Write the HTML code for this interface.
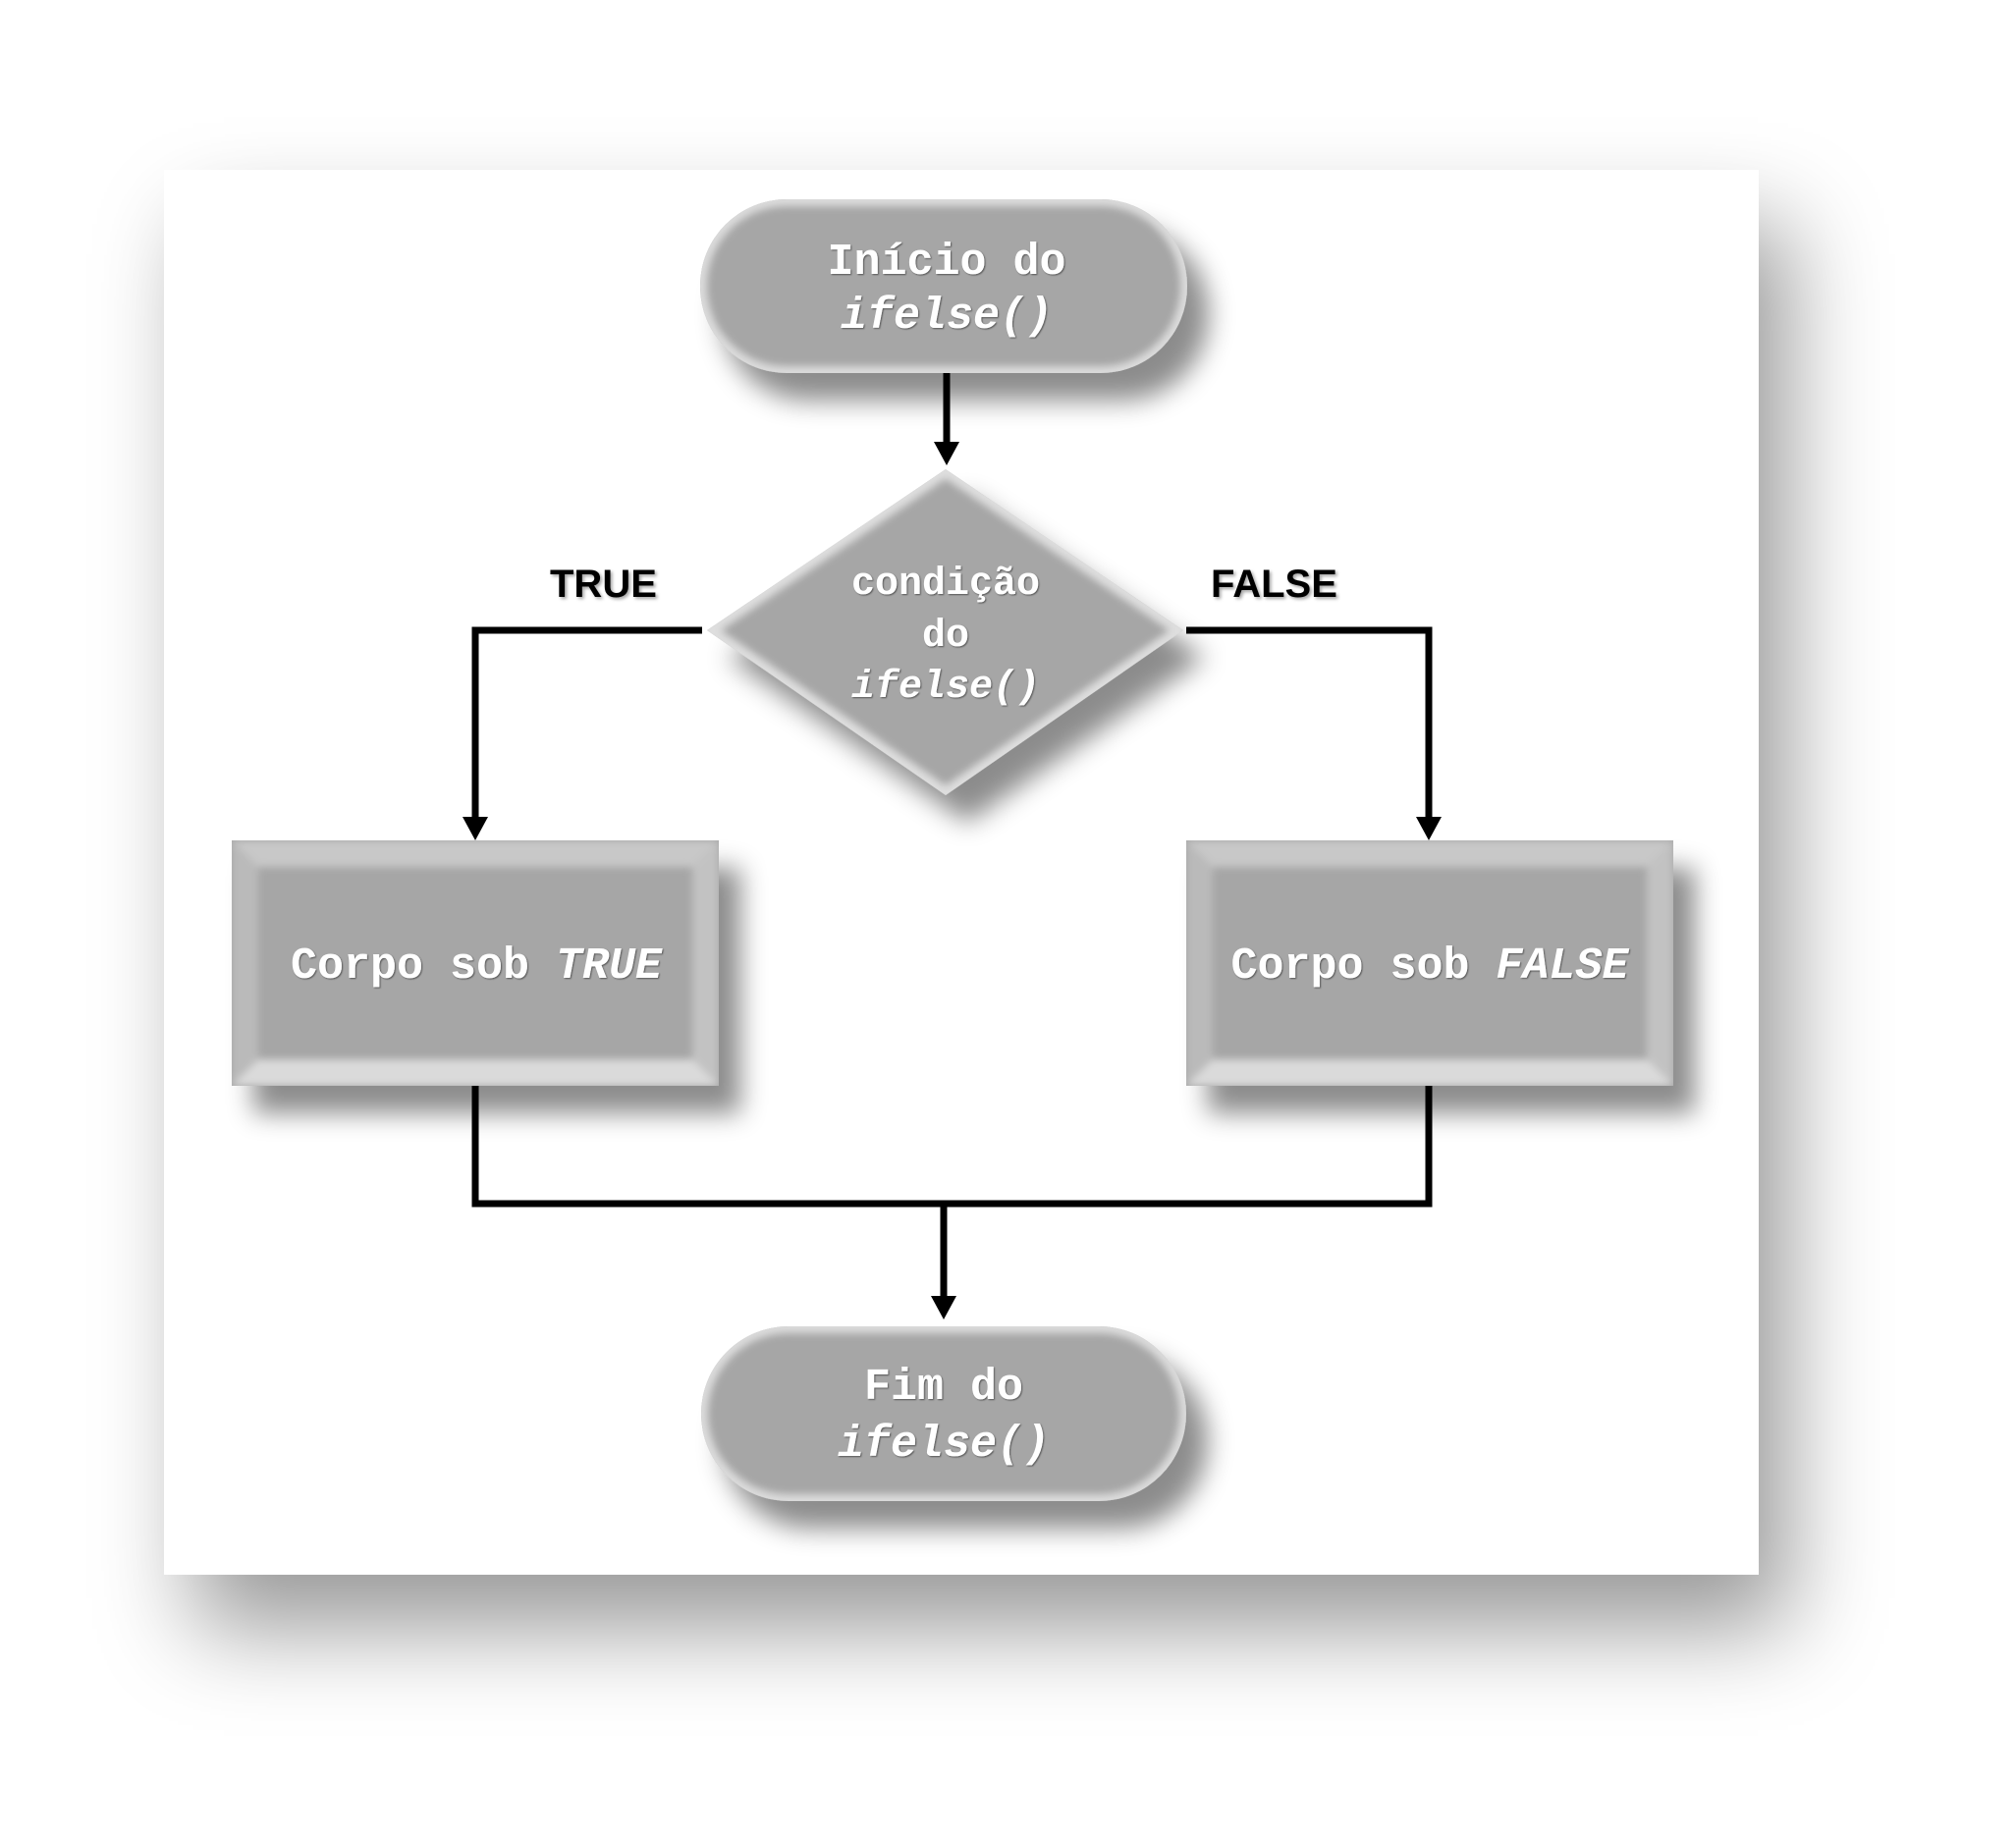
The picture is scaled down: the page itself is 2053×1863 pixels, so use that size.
<!DOCTYPE html>
<html><head><meta charset="utf-8"><style>
html,body{margin:0;padding:0;background:#fff;}
body{width:2053px;height:1863px;position:relative;overflow:hidden;}
.frame{position:absolute;left:167px;top:173px;width:1624px;height:1431px;background:#fff;box-shadow:30px 55px 90px rgba(0,0,0,0.4);}
svg{position:absolute;left:0;top:0;}
.m{font-family:"Liberation Mono",monospace;font-weight:bold;fill:#fff;}
.lbl{font-family:"Liberation Sans",sans-serif;font-weight:bold;fill:#000;font-size:40px;}
</style></head><body>
<div class="frame"></div>
<svg width="2053" height="1863" viewBox="0 0 2053 1863">
<defs>
<filter id="sh" x="-20%" y="-20%" width="150%" height="160%">
<feDropShadow dx="22" dy="28" stdDeviation="13" flood-color="#000" flood-opacity="0.45"/>
</filter>
<filter id="bl" x="-10%" y="-10%" width="120%" height="120%"><feGaussianBlur stdDeviation="4"/></filter>
<filter id="ts"><feDropShadow dx="1" dy="1" stdDeviation="0.8" flood-color="#333" flood-opacity="0.7"/></filter>
<filter id="ls"><feDropShadow dx="2" dy="2" stdDeviation="1.5" flood-color="#000" flood-opacity="0.35"/></filter>
<clipPath id="cp1"><rect x="713" y="203" width="496" height="177" rx="88"/></clipPath>
<clipPath id="cp2"><polygon points="963,478 1205,642 963,810 720,642"/></clipPath>
<clipPath id="cp3"><rect x="236" y="856" width="496" height="250"/></clipPath>
<clipPath id="cp4"><rect x="1208" y="856" width="496" height="250"/></clipPath>
<clipPath id="cp5"><rect x="714" y="1351" width="494" height="178" rx="89"/></clipPath>
</defs>

<g stroke="#000" stroke-width="7" fill="none">
<line x1="964" y1="380" x2="964" y2="452"/>
<polyline points="715,642 484,642 484,834"/>
<polyline points="1208,642 1455,642 1455,834"/>
<polyline points="484,1106 484,1226 1455,1226 1455,1106"/>
<line x1="961" y1="1226" x2="961" y2="1322"/>
</g>
<g fill="#000">
<polygon points="951,450 977,450 964,474"/>
<polygon points="471,832 497,832 484,856"/>
<polygon points="1442,832 1468,832 1455,856"/>
<polygon points="948,1320 974,1320 961,1344"/>
</g>

<!-- top pill -->
<g filter="url(#sh)"><rect x="713" y="203" width="496" height="177" rx="88" fill="#a6a6a6"/></g>
<g clip-path="url(#cp1)"><rect x="713" y="203" width="496" height="177" rx="88" fill="none" stroke="#dcdcdc" stroke-width="14" filter="url(#bl)"/></g>

<!-- diamond -->
<g filter="url(#sh)"><polygon points="963,478 1205,642 963,810 720,642" fill="#a6a6a6"/></g>
<g clip-path="url(#cp2)"><polygon points="963,478 1205,642 963,810 720,642" fill="none" stroke="#dedede" stroke-width="16" filter="url(#bl)"/></g>

<!-- left box -->
<g filter="url(#sh)"><rect x="236" y="856" width="496" height="250" fill="#a6a6a6"/></g>
<g clip-path="url(#cp3)" filter="url(#bl)">
<polygon points="236,856 732,856 705,883 263,883" fill="#c8c8c8"/>
<polygon points="236,1106 732,1106 705,1079 263,1079" fill="#dadada"/>
<polygon points="236,856 263,883 263,1079 236,1106" fill="#bababa"/>
<polygon points="732,856 705,883 705,1079 732,1106" fill="#c2c2c2"/>
</g>

<!-- right box -->
<g filter="url(#sh)"><rect x="1208" y="856" width="496" height="250" fill="#a6a6a6"/></g>
<g clip-path="url(#cp4)" filter="url(#bl)">
<polygon points="1208,856 1704,856 1677,883 1235,883" fill="#c8c8c8"/>
<polygon points="1208,1106 1704,1106 1677,1079 1235,1079" fill="#dadada"/>
<polygon points="1208,856 1235,883 1235,1079 1208,1106" fill="#bababa"/>
<polygon points="1704,856 1677,883 1677,1079 1704,1106" fill="#c2c2c2"/>
</g>

<!-- bottom pill -->
<g filter="url(#sh)"><rect x="714" y="1351" width="494" height="178" rx="89" fill="#a6a6a6"/></g>
<g clip-path="url(#cp5)"><rect x="714" y="1351" width="494" height="178" rx="89" fill="none" stroke="#dcdcdc" stroke-width="14" filter="url(#bl)"/></g>

<g class="m" text-anchor="middle" filter="url(#ts)">
<text x="964" y="279" font-size="45">Início do</text>
<text x="964" y="334" font-size="45" font-style="italic">ifelse()</text>
<text x="963" y="605" font-size="40">condição</text>
<text x="963" y="658" font-size="40">do</text>
<text x="963" y="710" font-size="40" font-style="italic">ifelse()</text>
<text x="485" y="996" font-size="45">Corpo sob <tspan font-style="italic">TRUE</tspan></text>
<text x="1456" y="996" font-size="45">Corpo sob <tspan font-style="italic">FALSE</tspan></text>
<text x="961" y="1425" font-size="45">Fim do</text>
<text x="961" y="1483" font-size="45" font-style="italic">ifelse()</text>
</g>
<g filter="url(#ls)">
<text class="lbl" x="560" y="608">TRUE</text>
<text class="lbl" x="1233" y="608">FALSE</text>
</g>
</svg>
</body></html>
